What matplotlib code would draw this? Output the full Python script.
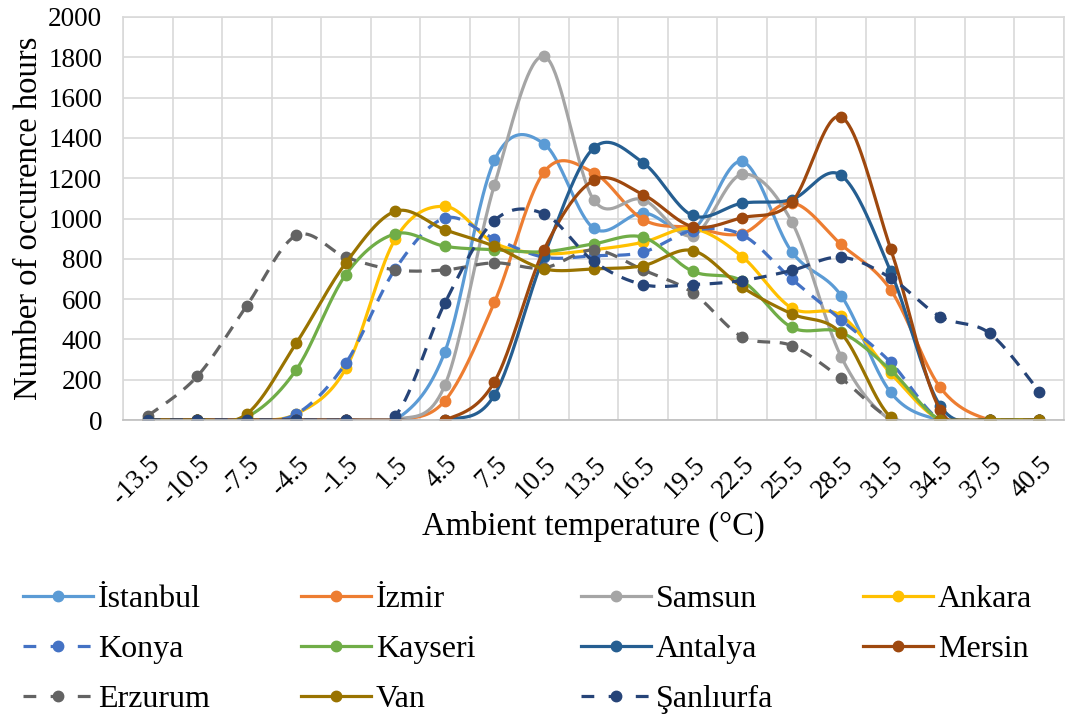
import numpy as np
import matplotlib.pyplot as plt
from matplotlib.lines import Line2D

plt.rcParams['font.family'] = ['Liberation Serif', 'DejaVu Serif']

temps = ['-13.5', '-10.5', '-7.5', '-4.5', '-1.5', '1.5', '4.5', '7.5', '10.5', '13.5',
         '16.5', '19.5', '22.5', '25.5', '28.5', '31.5', '34.5', '37.5', '40.5']

istanbul = [0, 0, 0, 0, 0, 0, 339, 1289, 1371, 952, 1028, 945, 1283, 836, 617, 137, 0, 0, 0]
izmir = [0, 0, 0, 0, 0, 0, 96, 584, 1230, 1228, 995, 955, 925, 1078, 871, 646, 162, 0, 0]
samsun = [0, 0, 0, 0, 0, 0, 173, 1167, 1805, 1094, 1094, 915, 1219, 985, 314, 0, 0, 0, 0]
ankara = [0, 0, 0, 30, 256, 899, 1060, 878, 826, 845, 882, 950, 811, 556, 518, 232, 0, 0, 0]
konya = [0, 0, 0, 30, 283, 750, 1002, 900, 808, 815, 833, 940, 919, 700, 497, 286, 0, 0, 0]
kayseri = [0, 0, 15, 250, 722, 924, 862, 845, 835, 874, 907, 738, 690, 460, 435, 248, 0, 0, 0]
antalya = [0, 0, 0, 0, 0, 0, 0, 124, 815, 1349, 1277, 1015, 1076, 1094, 1214, 738, 71, 0, 0]
mersin = [0, 0, 0, 0, 0, 0, 0, 190, 845, 1189, 1119, 960, 1004, 1080, 1504, 850, 50, 0, 0]
erzurum = [20, 217, 568, 916, 808, 745, 745, 780, 755, 844, 745, 632, 413, 369, 207, 10, 0, 0, 0]
van = [0, 0, 30, 382, 780, 1036, 944, 862, 750, 750, 766, 841, 659, 527, 430, 15, 0, 0, 0]
sanliurfa = [0, 0, 0, 0, 0, 21, 581, 990, 1023, 788, 672, 672, 692, 742, 808, 705, 513, 430, 141]

series = [
    ('İstanbul', istanbul, '#5B9BD5', '-'),
    ('İzmir', izmir, '#ED7D31', '-'),
    ('Samsun', samsun, '#A5A5A5', '-'),
    ('Ankara', ankara, '#FFC000', '-'),
    ('Konya', konya, '#4472C4', '--'),
    ('Kayseri', kayseri, '#70AD47', '-'),
    ('Antalya', antalya, '#255E91', '-'),
    ('Mersin', mersin, '#9E480E', '-'),
    ('Erzurum', erzurum, '#636363', '--'),
    ('Van', van, '#997300', '-'),
    ('Şanlıurfa', sanliurfa, '#264478', '--'),
]


def smooth(y, n=40):
    # cubic bezier through the points, tangents from neighbouring points
    pts = np.column_stack([np.arange(len(y)), y]).astype(float)
    p = np.vstack([pts[0], pts, pts[-1]])
    t = np.linspace(0, 1, n)[:, None]
    out = []
    for i in range(1, len(p) - 2):
        p0, p3 = p[i], p[i + 1]
        c1 = p0 + (p[i + 1] - p[i - 1]) / 6
        c2 = p3 - (p[i + 2] - p[i]) / 6
        seg = (1 - t) ** 3 * p0 + 3 * (1 - t) ** 2 * t * c1 + 3 * (1 - t) * t ** 2 * c2 + t ** 3 * p3
        out.append(seg if i == 1 else seg[1:])
    return np.vstack(out)


fig = plt.figure(figsize=(10.67, 7.15), dpi=100)
ax = fig.add_axes([123 / 1067, 1 - 420 / 715, 941 / 1067, 403 / 715])

LW = 2.3
MS = 7.5
x = np.arange(len(temps))
handles = {}
for name, vals, color, ls in series:
    curve = smooth(vals)
    kw = dict(dashes=(4, 3)) if ls == '--' else {}
    ax.plot(curve[:, 0], curve[:, 1], color=color, lw=LW, solid_capstyle='round', **kw)
    ax.plot(x, vals, 'o', color=color, ms=MS)
    handles[name] = Line2D([], [], color=color, lw=LW, marker='o', ms=MS,
                           dashes=(4, 4.5) if ls == '--' else (None, None))

ax.set_xlim(-0.5, len(temps) - 0.5)
ax.set_ylim(0, 2000)
ax.set_yticks(range(0, 2001, 200))
ax.set_xticks(x)
ax.set_xticklabels(temps, rotation=45, ha='right', va='top', rotation_mode='anchor')
ax.set_xticks(np.arange(-0.5, len(temps)), minor=True)
ax.tick_params(axis='both', which='both', length=0, labelsize=19.5)
ax.tick_params(axis='x', pad=23)
ax.tick_params(axis='y', pad=15)
ax.grid(True, which='minor', axis='x', color='#D9D9D9', lw=1.2)
ax.grid(True, which='major', axis='y', color='#D9D9D9', lw=1.2)
ax.set_axisbelow(True)
for s in ax.spines.values():
    s.set_color('#D9D9D9')
    s.set_linewidth(1.2)
ax.spines['bottom'].set_color('#BFBFBF')

ax.set_ylabel('Number of occurence hours', fontsize=23.5, labelpad=3)
ax.set_xlabel('Ambient temperature (°C)', fontsize=23.5, labelpad=1)

# legend: four equal-width columns
columns = [['İstanbul', 'Konya', 'Erzurum'],
           ['İzmir', 'Kayseri', 'Van'],
           ['Samsun', 'Antalya', 'Şanlıurfa'],
           ['Ankara', 'Mersin']]
col_x = [10, 288, 568, 850]
for cx, names in zip(col_x, columns):
    fig.legend([handles[k] for k in names], names, fontsize=23, frameon=False,
               loc='upper left', bbox_to_anchor=(cx / 1067, 1 - 572 / 715),
               handlelength=2.2, handletextpad=0.15, labelspacing=0.65,
               borderaxespad=0, numpoints=1)

fig.savefig('out.png', dpi=100)
